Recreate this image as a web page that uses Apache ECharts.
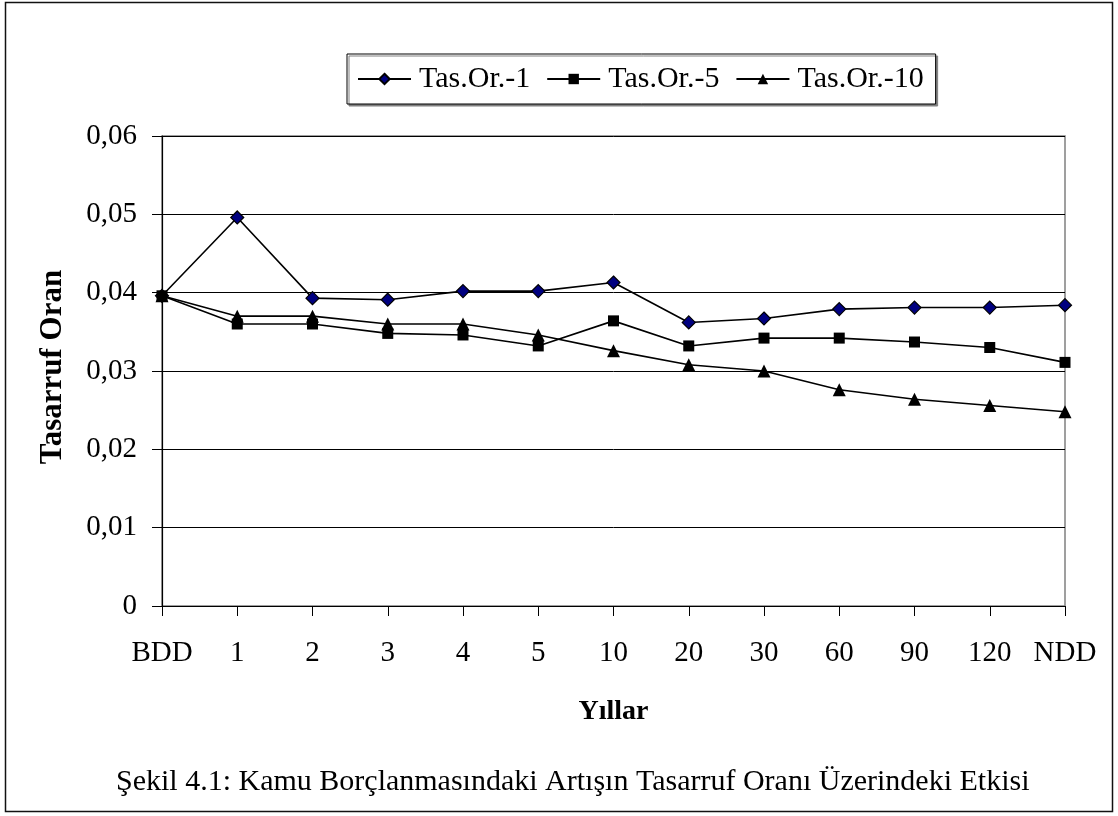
<!DOCTYPE html>
<html>
<head>
<meta charset="utf-8">
<script src="https://cdn.jsdelivr.net/npm/echarts@6/dist/echarts.min.js"></script>
<style>
html,body{margin:0;padding:0;background:#fff;}
#chart{width:1118px;height:816px;}
</style>
</head>
<body>
<div id="chart"></div>
<script>
const categories = ['BDD','1','2','3','4','5','10','20','30','60','90','120','NDD'];
const tasOr1 = [0.0396,0.0496,0.0393,0.0391,0.0402,0.0402,0.0413,0.0362,0.0367,0.0379,0.0381,0.0381,0.0384];
const tasOr5 = [0.0396,0.0360,0.0360,0.0348,0.0346,0.0332,0.0364,0.0332,0.0342,0.0342,0.0337,0.0330,0.0311];
const tasOr10 = [0.0396,0.0370,0.0370,0.0360,0.0360,0.0346,0.0326,0.0308,0.0300,0.0276,0.0264,0.0256,0.0248];
const seriesNames = ['Tas.Or.-1','Tas.Or.-5','Tas.Or.-10'];
const captionText = 'Şekil 4.1: Kamu Borçlanmasındaki Artışın Tasarruf Oranı Üzerindeki Etkisi';
const xName = 'Yıllar';
const yName = 'Tasarruf Oran';

const FONT = '"Liberation Serif","Times New Roman",serif';
const chart = echarts.init(document.getElementById('chart'), null, {renderer:'canvas'});

const lineStyle = {color:'#000', width:1.6};
chart.setOption({
  animation:false,
  backgroundColor:'#fff',
  textStyle:{fontFamily:FONT, color:'#000'},
  graphic:[{
    type:'rect', shape:{x:5.5,y:2.5,width:1107,height:809},
    style:{fill:'none', stroke:'#111', lineWidth:1.5}, silent:true, z:-1
  }],
  title:{
    text:captionText, left:116, top:767, padding:0,
    textStyle:{fontFamily:FONT, fontSize:30, fontWeight:'normal', color:'#000'}
  },
  legend:{
    left:347, top:54,
    padding:[10,12,10,10],
    itemGap:16, itemWidth:53, itemHeight:13,
    backgroundColor:'#fff',
    borderColor:'#000', borderWidth:1,
    shadowColor:'#808080', shadowOffsetX:2, shadowOffsetY:2, shadowBlur:0,
    textStyle:{fontFamily:FONT, fontSize:30, color:'#000', padding:[0,0,0,3]},
    data:seriesNames
  },
  grid:{left:162, right:53, top:136, bottom:210, show:true, borderColor:'#808080', borderWidth:1.5, backgroundColor:'#fff'},
  xAxis:{
    type:'category', data:categories, boundaryGap:false,
    name:xName, nameLocation:'middle', nameGap:92,
    nameTextStyle:{fontFamily:FONT, fontSize:28, fontWeight:'bold', color:'#000'},
    axisLine:{lineStyle:{color:'#000', width:1.2}},
    axisTick:{show:true, inside:false, length:10, alignWithLabel:true, lineStyle:{color:'#000'}},
    axisLabel:{margin:33, fontFamily:FONT, fontSize:29, color:'#000', interval:0},
    splitLine:{show:false}
  },
  yAxis:{
    type:'value', min:0, max:0.06, interval:0.01,
    name:yName, nameLocation:'middle', nameGap:94, nameRotate:90,
    nameTextStyle:{fontFamily:FONT, fontSize:31, fontWeight:'bold', color:'#000', padding:[0,0,0,8]},
    axisLine:{show:true, lineStyle:{color:'#000', width:1.2}},
    axisTick:{show:true, inside:false, length:10, lineStyle:{color:'#000'}},
    axisLabel:{margin:25, fontFamily:FONT, fontSize:29, color:'#000',
      formatter:function(v){ return v===0 ? '0' : v.toFixed(2).replace('.',','); }},
    splitLine:{show:true, lineStyle:{color:'#000', width:1}}
  },
  series:[
    {name:seriesNames[0], type:'line', data:tasOr1, symbol:'diamond', symbolSize:13,
      lineStyle:lineStyle, itemStyle:{color:'#000080', borderColor:'#000', borderWidth:1.2}, z:2},
    {name:seriesNames[1], type:'line', data:tasOr5, symbol:'rect', symbolSize:11,
      lineStyle:lineStyle, itemStyle:{color:'#000', borderColor:'#000', borderWidth:0}, z:4},
    {name:seriesNames[2], type:'line', data:tasOr10, symbol:'triangle', symbolSize:13,
      lineStyle:lineStyle, itemStyle:{color:'#000', borderColor:'#000', borderWidth:0}, z:3}
  ]
});
</script>
</body>
</html>
